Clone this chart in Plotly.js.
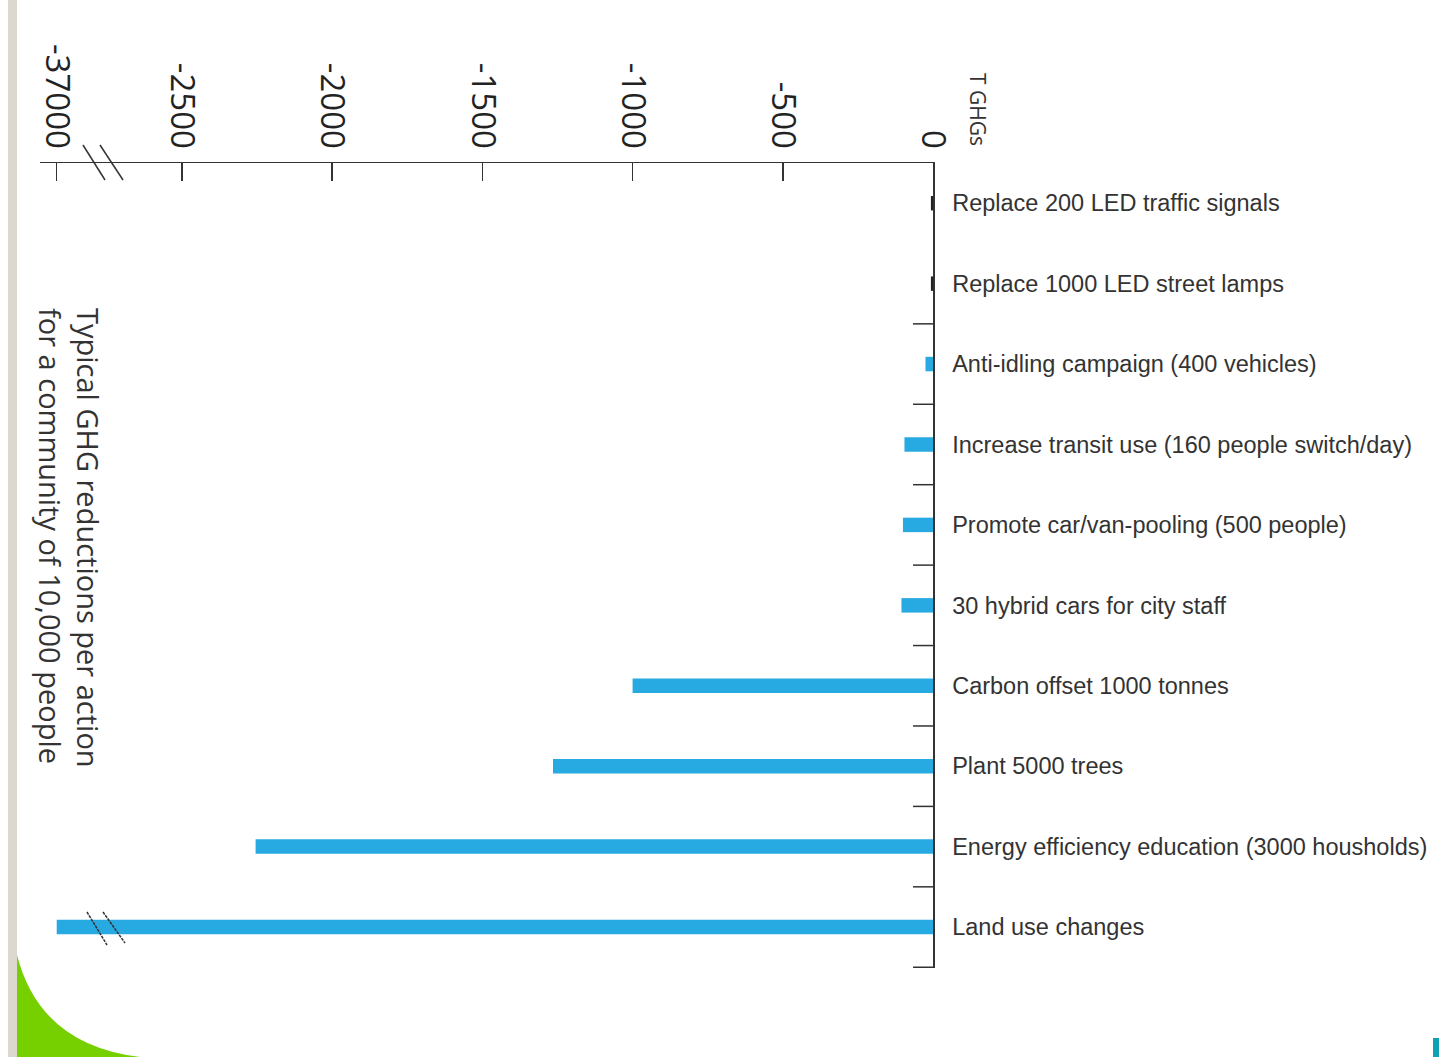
<!DOCTYPE html>
<html>
<head>
<meta charset="utf-8">
<script src="https://cdn.plot.ly/plotly-3.0.1.min.js"></script>
<style>html,body{margin:0;padding:0;background:#fff;} #chart{width:1439px;height:1057px;}</style>
</head>
<body>
<div id="chart"></div>
<script>
// ---- data ----
const categories = [
  "Replace 200 LED traffic signals",
  "Replace 1000 LED street lamps",
  "Anti-idling campaign (400 vehicles)",
  "Increase transit use (160 people switch/day)",
  "Promote car/van-pooling (500 people)",
  "30 hybrid cars for city staff",
  "Carbon offset 1000 tonnes",
  "Plant 5000 trees",
  "Energy efficiency education (3000 housholds)",
  "Land use changes"
];
const values = [-7, -7, -25, -95, -100, -105, -1000, -1265, -2255, -37000];
const tickValues = [-37000, -2500, -2000, -1500, -1000, -500, 0];
const tickLabels = ["-37000", "-2500", "-2000", "-1500", "-1000", "-500", "0"];

// ---- axis break: values beyond breakAt are drawn at breakPos ----
const breakAt = -3000, breakPos = -2917;
const toAxis = v => (v < breakAt ? breakPos : v);
const displayValues = values.map(toAxis);
const displayTicks = tickValues.map(toAxis);
const barColors = values.map(v => (v > -10 ? "#222222" : "#27a9e1"));

// ---- pixel -> paper helpers (plot area 40..933 x 163..968) ----
const W = 1439, H = 1057, L = 40, R = 933, T = 163, B = 968;
const px = x => (x - L) / (R - L);
const py = y => (B - y) / (B - T);

const shapes = [];
// y-axis ticks at category boundaries
for (let i = 1; i < categories.length; i++) {
  shapes.push({type: "line", xref: "paper", yref: "y", x0: px(913), x1: px(933),
    y0: i + 0.5, y1: i + 0.5, line: {color: "#333", width: 1.5}});
}
// break marks on axis
[[83,145,105,180],[100,145,123,180]].forEach(s => shapes.push({type: "line", xref: "paper", yref: "paper",
  x0: px(s[0]), y0: py(s[1]), x1: px(s[2]), y1: py(s[3]), line: {color: "#333", width: 1.5}}));
// break marks on bar
[[87,912,107,945],[103,912,125,943]].forEach(s => shapes.push({type: "line", xref: "paper", yref: "paper",
  x0: px(s[0]), y0: py(s[1]), x1: px(s[2]), y1: py(s[3]), line: {color: "#333", width: 1.5, dash: "3px,1px"}}));
// decorative slide elements
shapes.push({type: "rect", xref: "paper", yref: "paper", x0: px(8), x1: px(17), y0: py(0), y1: py(1057),
  fillcolor: "#dcd8d0", line: {width: 0}, layer: "below"});
shapes.push({type: "path", xref: "paper", yref: "paper",
  path: `M ${px(17)} ${py(955)} Q ${px(40)} ${py(1045)} ${px(140)} ${py(1057)} L ${px(17)} ${py(1057)} Z`,
  fillcolor: "#76d000", line: {width: 0}});
shapes.push({type: "rect", xref: "paper", yref: "paper", x0: px(1433), x1: px(1440), y0: py(1038), y1: py(1058),
  fillcolor: "#0ea2b2", line: {width: 0}});

const annotations = [
  {xref: "paper", yref: "paper", x: px(978), y: py(109), text: "T GHGs", showarrow: false, textangle: 90,
   font: {family: "Open Sans, sans-serif", size: 21, color: "#333"}, xanchor: "center", yanchor: "middle"},
  {xref: "paper", yref: "paper", x: px(70), y: py(538),
   text: "Typical GHG reductions per action<br>for a community of 10,000 people",
   showarrow: false, textangle: 90, align: "left",
   font: {family: "Open Sans, sans-serif", size: 29, color: "#333"}, xanchor: "center", yanchor: "middle"}
];

const trace = {
  type: "bar", orientation: "h",
  y: categories, x: displayValues,
  width: 0.18,
  marker: {color: barColors, line: {width: 0}},
  hoverinfo: "skip"
};

const layout = {
  width: W, height: H,
  margin: {l: L, r: W - R, t: T, b: H - B, pad: 0},
  paper_bgcolor: "#fff", plot_bgcolor: "#fff",
  showlegend: false,
  xaxis: {
    side: "top", range: [-(R - L) / 0.3004, 0], autorange: false,
    tickvals: displayTicks, ticktext: tickLabels, tickangle: 90,
    ticks: "inside", ticklen: 18, tickwidth: 1.5, tickcolor: "#333",
    showline: true, linecolor: "#333", linewidth: 1.5,
    showgrid: false, zeroline: false, ticklabelstandoff: 1,
    tickfont: {family: "Open Sans, sans-serif", size: 33, color: "#222"}
  },
  yaxis: {
    side: "right", type: "category", autorange: "reversed",
    ticks: "", showline: true, linecolor: "#333", linewidth: 1.5,
    showgrid: false, zeroline: false, ticklabelstandoff: 13,
    tickfont: {family: "Liberation Sans Narrow, Arial Narrow, sans-serif", size: 23.5, color: "#333"}
  },
  shapes: shapes,
  annotations: annotations
};

Plotly.newPlot("chart", [trace], layout, {staticPlot: true, displayModeBar: false});
</script>
</body>
</html>
